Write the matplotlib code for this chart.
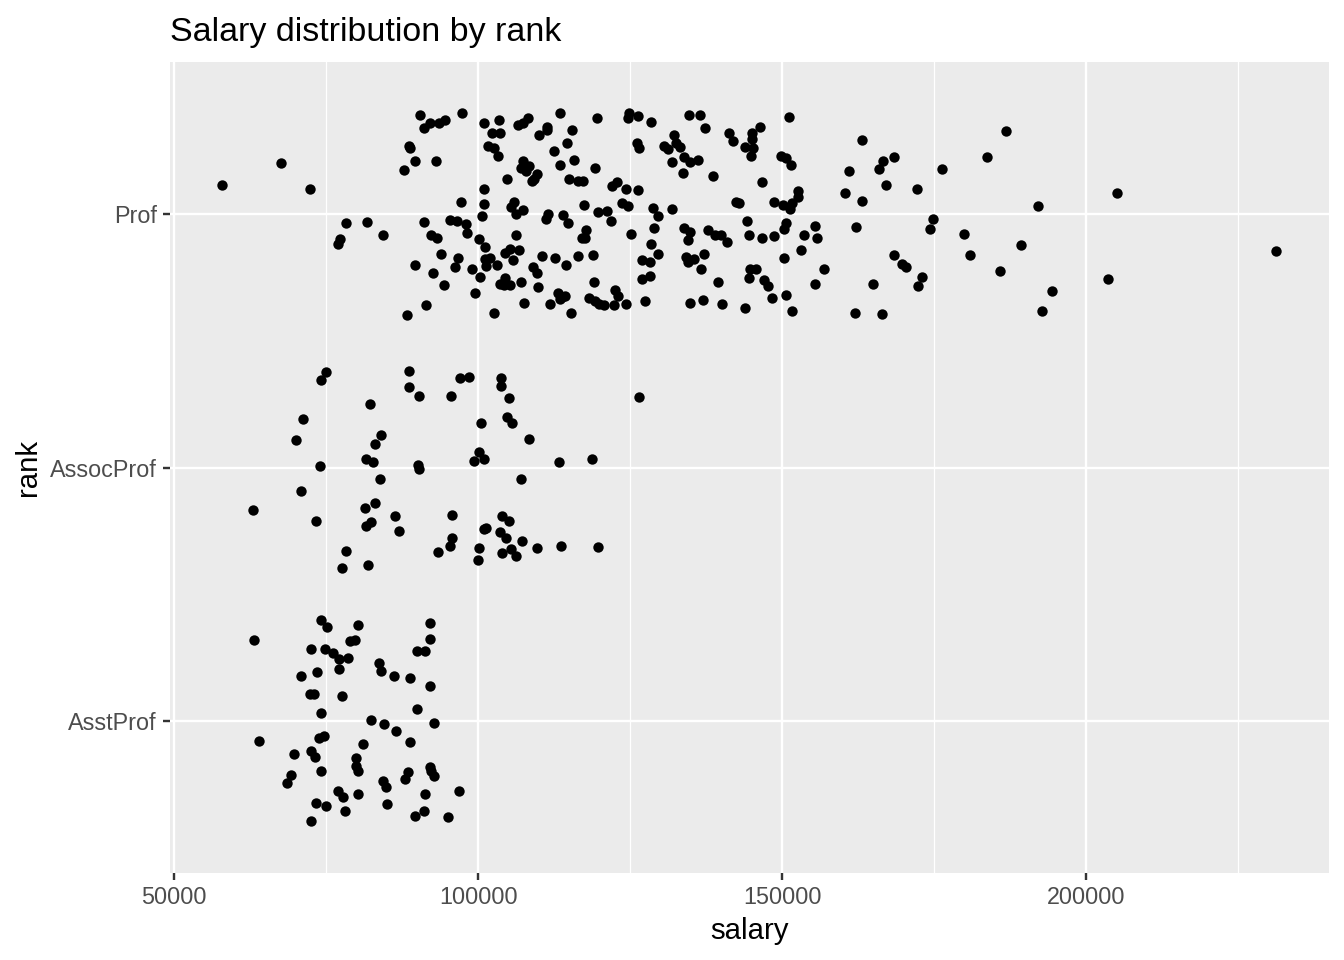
import matplotlib.pyplot as plt
import numpy as np

plt.rcParams['font.family'] = ['Liberation Sans', 'DejaVu Sans']

ranks = ["AsstProf", "AssocProf", "Prof"]
x_ticks = [50000, 100000, 150000, 200000]
x_minor = [75000, 125000, 175000, 225000]

# salary (thousands) and vertical jitter
prof_salary = [
    57.8, 67.5, 72.4, 88.7, 88.8, 89.6, 87.8, 78.2, 81.7, 84.3, 77.3, 76.9, 89.6, 88.3,
    90.5, 92.0, 91.1, 93.6, 94.5, 97.3, 93.0, 101.0, 103.5, 102.3, 103.6, 101.7, 102.6, 103.2,
    106.6, 107.4, 108.2, 111.3, 111.3, 110.0, 113.4, 115.4, 119.5, 114.6, 112.5, 113.4, 115.7, 119.3,
    104.7, 101.0, 97.2, 101.0, 100.6, 105.9, 105.4, 106.2, 107.4, 107.4, 107.0, 107.9, 108.3, 109.7,
    109.2, 108.9, 114.9, 116.5, 117.3, 117.4, 111.5, 111.1, 113.9, 114.8, 119.7, 91.1, 95.3, 96.5,
    98.0, 98.2, 92.3, 93.3, 100.1, 101.2, 106.2, 117.7, 117.1, 117.6, 93.9, 96.7, 96.2, 92.5,
    94.4, 99.0, 100.3, 99.5, 101.2, 102.0, 101.3, 103.1, 104.4, 105.3, 105.7, 106.7, 103.6, 104.4,
    104.3, 105.3, 107.0, 110.5, 112.6, 114.4, 116.4, 118.9, 109.0, 109.7, 109.8, 107.5, 111.8, 113.1,
    113.8, 114.3, 113.4, 115.2, 119.0, 118.3, 119.2, 119.9, 91.4, 102.6,
    124.9, 124.6, 126.3, 128.4, 126.2, 126.4, 122.0, 122.8, 124.3, 126.3, 123.6, 124.6, 121.2, 121.8,
    125.1, 128.7, 129.6, 131.9, 128.9, 128.4, 129.6, 127.0, 128.3, 126.9, 128.2, 122.5, 123.0, 120.7,
    122.4, 124.3, 127.5, 132.2, 130.6, 131.3, 132.6, 133.2, 134.7, 136.5, 137.3, 133.9, 134.9, 136.1,
    131.9, 133.7, 138.6, 141.3, 141.9, 145.1, 145.0, 143.9, 145.3, 144.9, 146.4, 146.7, 142.4, 143.0,
    148.6, 133.9, 134.8, 134.6, 137.9, 139.0, 140.0, 141.0, 144.2, 144.5, 146.7, 148.6, 134.2, 134.5,
    135.5, 137.1, 136.6, 139.5, 144.7, 145.8, 144.5, 147.0, 147.7, 148.3, 134.8, 137.0, 140.2, 143.9,
    150.3, 149.9,
    151.2, 163.1, 150.6, 151.4, 161.0, 166.6, 165.9, 168.5, 176.3, 167.1, 172.2, 160.3, 163.1, 152.6,
    152.6, 151.6, 150.2, 151.3, 150.7, 150.4, 155.4, 153.6, 155.8, 153.2, 162.1, 156.9, 155.5, 150.6,
    151.6, 162.0, 166.4, 164.9, 168.4, 169.8, 170.4, 173.0, 172.3, 174.8, 174.3,
    186.8, 183.7, 192.1, 205.2, 179.9, 189.3, 181.0, 185.8, 194.5, 192.7, 203.7, 231.2,
]
prof_jitter = [
    0.115, 0.20, 0.10, 0.27, 0.26, 0.21, 0.175, -0.034, -0.03, -0.083, -0.099, -0.119, -0.20, -0.40,
    0.39, 0.36, 0.34, 0.36, 0.37, 0.40, 0.21, 0.36, 0.37, 0.32, 0.32, 0.27, 0.26, 0.23,
    0.35, 0.36, 0.38, 0.345, 0.33, 0.31, 0.40, 0.33, 0.38, 0.28, 0.25, 0.195, 0.215, 0.18,
    0.14, 0.10, 0.047, 0.04, -0.007, 0.049, 0.029, 0.0, 0.016, 0.21, 0.18, 0.17, 0.19, 0.16,
    0.14, 0.13, 0.14, 0.13, 0.13, 0.037, 0.001, -0.02, -0.005, -0.034, 0.009, -0.03, -0.024, -0.028,
    -0.041, -0.075, -0.083, -0.096, -0.10, -0.13, -0.084, -0.063, -0.094, -0.096, -0.157, -0.175, -0.21, -0.232,
    -0.28, -0.216, -0.25, -0.31, -0.178, -0.173, -0.204, -0.20, -0.155, -0.136, -0.18, -0.14, -0.277, -0.254,
    -0.28, -0.278, -0.269, -0.166, -0.174, -0.20, -0.166, -0.16, -0.21, -0.233, -0.287, -0.35, -0.355, -0.31,
    -0.327, -0.323, -0.336, -0.39, -0.27, -0.333, -0.343, -0.353, -0.358, -0.39,
    0.398, 0.38, 0.385, 0.365, 0.28, 0.26, 0.11, 0.128, 0.10, 0.095, 0.042, 0.033, 0.013, -0.028,
    -0.079, 0.022, -0.007, 0.021, -0.054, -0.117, -0.157, -0.18, -0.19, -0.256, -0.245, -0.30, -0.324, -0.36,
    -0.36, -0.356, -0.343, 0.31, 0.27, 0.257, 0.28, 0.266, 0.389, 0.39, 0.34, 0.226, 0.207, 0.212,
    0.207, 0.162, 0.151, 0.319, 0.29, 0.319, 0.295, 0.266, 0.262, 0.229, 0.345, 0.126, 0.049, 0.045,
    0.049, -0.054, -0.071, -0.103, -0.064, -0.084, -0.083, -0.109, -0.029, -0.082, -0.094, -0.086, -0.169, -0.189,
    -0.177, -0.157, -0.216, -0.268, -0.215, -0.215, -0.252, -0.261, -0.285, -0.333, -0.35, -0.339, -0.356, -0.37,
    -0.174, 0.229,
    0.383, 0.294, 0.22, 0.194, 0.171, 0.209, 0.179, 0.226, 0.178, 0.116, 0.099, 0.084, 0.051, 0.092,
    0.067, 0.042, 0.036, 0.02, -0.037, -0.059, -0.046, -0.082, -0.095, -0.141, -0.053, -0.216, -0.277, -0.32,
    -0.383, -0.391, -0.394, -0.277, -0.161, -0.199, -0.209, -0.248, -0.285, -0.019, -0.059,
    0.328, 0.225, 0.032, 0.083, -0.079, -0.123, -0.162, -0.225, -0.304, -0.383, -0.257, -0.145,
]

assoc_salary = [
    74.9, 74.1, 62.9, 71.2, 70.0, 74.0, 70.8, 73.4, 78.2, 77.6, 82.2, 84.0, 83.0, 81.5,
    82.7, 83.8, 81.4, 83.0, 81.5, 82.3, 81.9, 88.6, 88.6, 90.2, 95.5, 97.0, 90.1, 90.3,
    86.3, 87.0, 95.7, 95.7, 95.3, 93.4, 98.5, 103.7, 103.7, 105.0, 126.4, 100.4, 104.7, 105.5,
    108.3, 100.1, 99.3, 100.9, 113.3, 118.7, 107.0, 104.0, 105.0, 100.9, 101.3, 103.6, 104.6, 107.2,
    100.1, 99.9, 103.9, 105.4, 106.2, 109.7, 113.6, 119.7,
]
assoc_jitter = [
    0.377, 0.344, -0.166, 0.191, 0.107, 0.005, -0.094, -0.212, -0.328, -0.398, 0.249, 0.13, 0.091, 0.033,
    0.02, -0.047, -0.158, -0.142, -0.229, -0.215, -0.383, 0.381, 0.316, 0.282, 0.281, 0.353, 0.008, -0.005,
    -0.19, -0.249, -0.186, -0.279, -0.308, -0.335, 0.356, 0.353, 0.32, 0.274, 0.277, 0.174, 0.2, 0.174,
    0.111, 0.063, 0.024, 0.032, 0.02, 0.032, -0.047, -0.192, -0.212, -0.244, -0.24, -0.256, -0.279, -0.291,
    -0.319, -0.366, -0.339, -0.323, -0.351, -0.319, -0.308, -0.315,
]

asst_salary = [
    63.1, 74.1, 75.2, 80.2, 78.9, 79.8, 72.5, 74.8, 76.2, 77.1, 78.6, 77.1, 73.5, 70.8,
    72.3, 73.0, 77.6, 74.1, 83.7, 84.0, 86.1, 88.8, 92.1, 92.1, 89.9, 91.3, 92.1, 89.9,
    82.4, 84.5, 86.5, 92.7, 88.8, 64.0, 73.8, 74.7, 81.0, 69.7, 72.5, 73.1, 79.9, 79.9,
    80.2, 74.1, 69.2, 68.5, 84.3, 84.8, 88.4, 87.9, 92.1, 92.2, 92.7, 77.0, 77.8, 80.2,
    91.2, 96.9, 73.4, 75.0, 78.1, 85.0, 91.1, 89.6, 95.0, 72.5,
]
asst_jitter = [
    0.321, 0.398, 0.369, 0.377, 0.317, 0.321, 0.282, 0.282, 0.27, 0.246, 0.25, 0.204, 0.195, 0.178,
    0.107, 0.107, 0.1, 0.033, 0.228, 0.199, 0.178, 0.171, 0.385, 0.325, 0.274, 0.274, 0.136, 0.049,
    0.005, -0.011, -0.04, -0.007, -0.082, -0.078, -0.066, -0.06, -0.09, -0.129, -0.12, -0.143, -0.145, -0.179,
    -0.198, -0.196, -0.213, -0.245, -0.237, -0.261, -0.203, -0.23, -0.181, -0.199, -0.217, -0.277, -0.3, -0.287,
    -0.287, -0.275, -0.323, -0.335, -0.355, -0.328, -0.355, -0.374, -0.378, -0.394,
]

groups = [(asst_salary, asst_jitter), (assoc_salary, assoc_jitter), (prof_salary, prof_jitter)]

fig = plt.figure(figsize=(1344 / 144, 960 / 144), dpi=144)
ax = fig.add_axes([170 / 1344, 1 - 873 / 960, (1329 - 170) / 1344, (873 - 62) / 960])
ax.set_facecolor('#EBEBEB')
for s in ax.spines.values():
    s.set_visible(False)

for xm in x_minor:
    ax.axvline(xm, color='white', linewidth=0.6, zorder=1)
for xt in x_ticks:
    ax.axvline(xt, color='white', linewidth=1.2, zorder=1)
for i in range(len(ranks)):
    ax.axhline(i + 1, color='white', linewidth=1.2, zorder=1)

for i, (sal, jit) in enumerate(groups):
    x = np.array(sal) * 1000
    y = (i + 1) + np.array(jit)
    ax.scatter(x, y, s=27, color='black', linewidths=0, zorder=3)

ax.set_xlim(49300, 240000)
ax.set_ylim(0.4, 3.6)
ax.set_xticks(x_ticks)
ax.set_xticklabels([str(v) for v in x_ticks])
ax.set_yticks([1, 2, 3])
ax.set_yticklabels(ranks)
ax.tick_params(axis='both', length=3.7, width=1.2, color='#333333',
               labelcolor='#4D4D4D', labelsize=11.7, pad=2.9)

ax.set_xlabel('salary', fontsize=14.7, color='black', labelpad=4)
ax.set_ylabel('rank', fontsize=14.7, color='black', labelpad=4)
ax.set_title('Salary distribution by rank', loc='left', fontsize=17.0, pad=10.5)

fig.savefig('out.png', dpi=144)
